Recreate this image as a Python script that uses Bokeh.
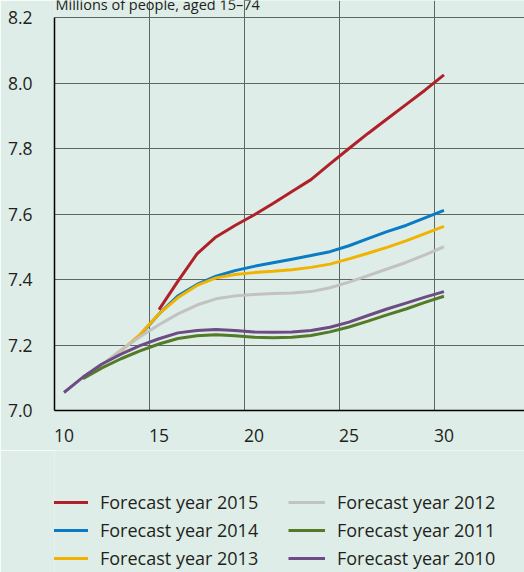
from bokeh.plotting import figure
from bokeh.layouts import column
from bokeh.models import (Legend, LegendItem, FixedTicker, Label, Range1d,
                          CustomJSTickFormatter)
from bokeh.embed import file_html
from bokeh.resources import INLINE

# Labour force projections, millions of people aged 15-74, by forecast vintage
years = list(range(10, 31))

forecast_2015 = [7.308, 7.395, 7.478, 7.530, 7.565, 7.597, 7.632, 7.669,
                 7.705, 7.753, 7.800, 7.846, 7.890, 7.934, 7.978, 8.025]
forecast_2014 = [7.230, 7.295, 7.350, 7.385, 7.410, 7.427, 7.440, 7.451,
                 7.462, 7.473, 7.485, 7.503, 7.525, 7.546, 7.565, 7.588, 7.611]
forecast_2013 = [7.182, 7.232, 7.295, 7.345, 7.382, 7.405, 7.415, 7.421,
                 7.425, 7.430, 7.437, 7.447, 7.463, 7.480, 7.498, 7.518,
                 7.540, 7.562]
forecast_2012 = [7.140, 7.185, 7.225, 7.262, 7.295, 7.322, 7.341, 7.350,
                 7.354, 7.357, 7.359, 7.363, 7.375, 7.392, 7.412, 7.432,
                 7.452, 7.475, 7.500]
forecast_2011 = [7.097, 7.130, 7.158, 7.182, 7.203, 7.220, 7.228, 7.231,
                 7.228, 7.224, 7.222, 7.224, 7.229, 7.240, 7.255, 7.273,
                 7.292, 7.310, 7.330, 7.349]
forecast_2010 = [7.055, 7.102, 7.142, 7.172, 7.198, 7.219, 7.237, 7.244,
                 7.247, 7.244, 7.240, 7.239, 7.240, 7.244, 7.254, 7.270,
                 7.290, 7.310, 7.328, 7.346, 7.363]

series = [
    ("Forecast year 2015", forecast_2015, "#b0202a"),
    ("Forecast year 2014", forecast_2014, "#0a7bc4"),
    ("Forecast year 2013", forecast_2013, "#f2b200"),
    ("Forecast year 2012", forecast_2012, "#c2c2c2"),
    ("Forecast year 2011", forecast_2011, "#527a27"),
    ("Forecast year 2010", forecast_2010, "#6d4b85"),
]

x_ticks = [10, 15, 20, 25, 30]
y_ticks = [7.0, 7.2, 7.4, 7.6, 7.8, 8.0, 8.2]
unit_label = "Millions of people, aged 15\u201374"

FONT = "Open Sans"
TEXT = "#231f20"
BG = "#deede7"
GRID = "#5e6863"
PX_PER_UNIT = 327.5  # vertical scale of the value axis

# ---- main chart -------------------------------------------------------
p = figure(width=524, height=450, output_backend="svg", toolbar_location=None,
           x_range=Range1d(9.5, 34.24),
           y_range=Range1d(7.0, 7.0 + 410 / PX_PER_UNIT),
           min_border_left=54, min_border_right=0, min_border_top=0,
           min_border_bottom=40)
p.background_fill_color = BG
p.border_fill_color = BG
p.outline_line_color = None

# grid lines sit between the year ticks and stop at the top value
p.xgrid.ticker = FixedTicker(ticks=[14.5, 19.5, 24.5, 29.5])
p.xgrid.bounds = (7.0, 8.2)
p.ygrid.ticker = FixedTicker(ticks=y_ticks[1:])
for g in (p.xgrid, p.ygrid):
    g.grid_line_color = GRID
    g.grid_line_width = 1

p.xaxis.ticker = FixedTicker(ticks=x_ticks)
p.yaxis.ticker = FixedTicker(ticks=y_ticks)
p.yaxis.bounds = (7.0, 8.2)
p.yaxis.formatter = CustomJSTickFormatter(code="return tick.toFixed(1);")
for ax in (p.xaxis, p.yaxis):
    ax.axis_line_color = "black"
    ax.axis_line_width = 1.5
    ax.major_tick_line_color = None
    ax.minor_tick_line_color = None
    ax.major_label_text_font = FONT
    ax.major_label_text_font_size = "17.5px"
    ax.major_label_text_color = TEXT
p.yaxis.major_label_standoff = 16
p.xaxis.major_label_standoff = 12

for name, vals, color in series:
    xs = years[len(years) - len(vals):]
    p.line(xs, vals, line_color=color, line_width=3)

# unit caption, running off the top edge
p.add_layout(Label(x=9.5, y=7.0 + 406 / PX_PER_UNIT, x_offset=1,
                   text=unit_label, text_font=FONT, text_font_size="14.5px",
                   text_color=TEXT, text_baseline="alphabetic"))

# ---- legend strip -----------------------------------------------------
# the same series are drawn here outside the visible range, so only their
# legend keys show
lg = figure(width=524, height=122, output_backend="svg", toolbar_location=None,
            x_range=Range1d(0, 1), y_range=Range1d(0, 1),
            min_border_left=0, min_border_right=0, min_border_top=0,
            min_border_bottom=0)
lg.axis.visible = False
lg.grid.visible = False
lg.background_fill_color = BG
lg.border_fill_color = BG
lg.outline_line_color = None

keys = {}
for name, vals, color in series:
    xs = years[len(years) - len(vals):]
    keys[name] = lg.line(xs, vals, line_color=color, line_width=3)


def make_legend(names, x):
    leg = Legend(items=[LegendItem(label=n, renderers=[keys[n]]) for n in names],
                 location=(x, 2), orientation="vertical")
    leg.background_fill_alpha = 0
    leg.border_line_color = None
    leg.padding = 0
    leg.margin = 0
    leg.spacing = 4
    leg.glyph_width = 37
    leg.glyph_height = 20
    leg.label_height = 20
    leg.label_standoff = 12
    leg.label_text_font = FONT
    leg.label_text_font_size = "18px"
    leg.label_text_color = TEXT
    return leg


lg.add_layout(make_legend(["Forecast year 2015", "Forecast year 2014",
                           "Forecast year 2013"], -3))
lg.add_layout(make_legend(["Forecast year 2012", "Forecast year 2011",
                           "Forecast year 2010"], 234))

layout = column(p, lg, spacing=0)
open("out.html", "w").write(file_html(layout, INLINE))
